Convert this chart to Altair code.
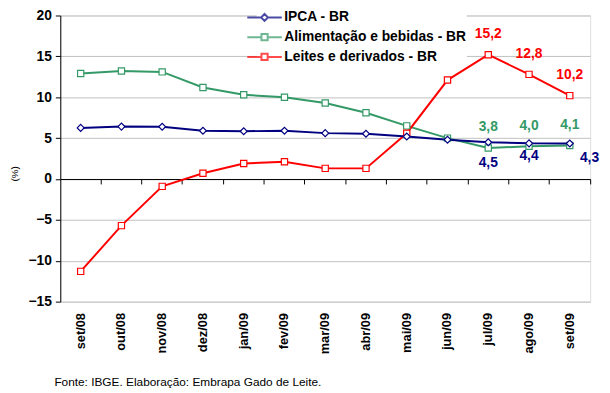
import altair as alt
import pandas as pd
import json

meses = ["set/08", "out/08", "nov/08", "dez/08", "jan/09", "fev/09", "mar/09",
         "abr/09", "mai/09", "jun/09", "jul/09", "ago/09", "set/09"]
ipca = [6.25, 6.41, 6.39, 5.90, 5.84, 5.90, 5.61, 5.53, 5.20, 4.80, 4.50, 4.36, 4.34]
alimentacao = [12.9, 13.2, 13.1, 11.2, 10.3, 10.0, 9.3, 8.1, 6.5, 5.0, 3.8, 4.0, 4.1]
leites = [-11.3, -5.7, -0.9, 0.7, 1.9, 2.1, 1.3, 1.3, 5.6, 12.1, 15.2, 12.8, 10.2]
series = ["IPCA - BR", "Alimentação e bebidas - BR", "Leites e derivados - BR"]
cores = ["#000080", "#339966", "#FF0000"]
fonte = "Fonte: IBGE. Elaboração: Embrapa Gado de Leite."

FONT = "Liberation Sans"
W, H = 537, 290

rows = []
for s, vals in zip(series, [ipca, alimentacao, leites]):
    for m, v in zip(meses, vals):
        rows.append({"mes": m, "serie": s, "valor": v,
                     "rotulo": f"{v:.1f}".replace(".", ",")})
df = pd.DataFrame(rows)

color_scale = alt.Scale(domain=series, range=cores)
x_scale = alt.Scale(type="band", domain=meses, paddingInner=0, paddingOuter=0)
y_scale = alt.Scale(domain=[-15, 20], nice=False)

x_label_axis = alt.Axis(orient="bottom", domain=False, ticks=False, grid=False,
                        labelAngle=-90, labelFont=FONT, labelFontSize=13,
                        labelFontWeight="bold", labelColor="black",
                        labelPadding=11, title=None)
x_tick_axis = alt.Axis(orient="bottom", offset=-(H * 15 / 35), labels=False,
                       domain=True, domainColor="black", domainWidth=1,
                       ticks=True, tickColor="black", tickSize=5, tickWidth=1,
                       bandPosition=1, grid=False, title=None)
y_axis = alt.Axis(values=[-15, -10, -5, 0, 5, 10, 15, 20], domainColor="black",
                  tickColor="black", tickSize=5, labelFont=FONT, labelFontSize=14,
                  labelFontWeight="bold", labelColor="black", labelPadding=4,
                  gridColor="#c0c0c0", gridWidth=1,
                  title="(%)", titleFont=FONT, titleFontSize=10,
                  titleFontWeight="normal", titleColor="black",
                  titleX=-46, titleY=160, titleAngle=-90,
                  titleAlign="center", titleBaseline="middle")

sq = "M-2.5,0H-0.45M0.45,0H2.5M-0.45,-0.45H0.45V0.45H-0.45Z"
dm = "M-2.5,0H-0.5M0.5,0H2.5M0,-0.5L0.5,0L0,0.5L-0.5,0Z"

LEG = alt.Legend(orient="none", legendX=199, legendY=-6, title=None,
                 padding=0, fillColor="white", symbolSize=196,
                 symbolStrokeWidth=2, symbolFillColor="white",
                 labelFont=FONT, labelFontSize=14, labelFontWeight="bold",
                 labelColor="black", labelOffset=12, rowPadding=4,
                 labelLimit=400)

Y = alt.Y("valor:Q", scale=y_scale, axis=y_axis)
XN = alt.X("mes:O", scale=x_scale, bandPosition=0.5, axis=None)

legend_layer = alt.Chart(df).transform_filter(
    "datum.serie == '__none__'"
).mark_point(filled=False, strokeWidth=2).encode(
    x=alt.X("mes:O", scale=x_scale, bandPosition=0.5, axis=x_label_axis),
    y=Y,
    color=alt.Color("serie:N", scale=color_scale, legend=LEG),
    shape=alt.Shape("serie:N", scale=alt.Scale(domain=series, range=[dm, sq, sq]),
                    legend=LEG),
)

ticks_layer = alt.Chart(df).mark_line(opacity=0).encode(
    x=alt.X("mes:O", scale=x_scale, bandPosition=0.5, axis=x_tick_axis),
    y=Y,
    detail="serie:N",
)

def sel(serie):
    return alt.Chart(df).transform_filter(f"datum.serie == {json.dumps(serie)}")

def line(i):
    return sel(series[i]).mark_line(strokeWidth=2, color=cores[i]).encode(x=XN, y=Y)

def pts(i, shape, size):
    return sel(series[i]).mark_point(
        shape=shape, size=size, filled=True, fill="white", stroke=cores[i],
        strokeWidth=1.2, opacity=1
    ).encode(x=XN, y=Y)

def labels(i, months, dy, dx=0):
    expr = (f"datum.serie == {json.dumps(series[i])} && "
            f"indexof({json.dumps(months)}, datum.mes) >= 0")
    return alt.Chart(df).transform_filter(expr).mark_text(
        font=FONT, fontSize=14, fontWeight="bold", dy=dy, dx=dx, color=cores[i],
        baseline="middle", align="center").encode(x=XN, y=Y, text="rotulo:N")

tri = ["jul/09", "ago/09", "set/09"]
layers = [
    legend_layer, ticks_layer,
    line(1), line(2), line(0),
    pts(1, "square", 40), pts(2, "square", 40), pts(0, "diamond", 49),
    labels(2, tri, -21), labels(1, tri, -21),
    labels(0, ["jul/09"], 21), labels(0, ["ago/09"], 13), labels(0, ["set/09"], 15, 20),
]

footer = alt.Chart(pd.DataFrame({"t": [fonte]})).mark_text(
    font=FONT, fontSize=12, color="black", align="left", baseline="middle"
).encode(x=alt.value(-6), y=alt.value(372), text="t:N")
layers.append(footer)

chart = alt.layer(*layers).resolve_axis(x="independent").properties(
    width=W, height=H,
    autosize=alt.AutoSizeParams(type="none"),
    padding={"left": 53, "top": 5, "right": 12, "bottom": 90},
).configure_view(stroke=None).configure(background="white")

chart.save("out.html", embed_options={"renderer": "svg", "actions": False})
